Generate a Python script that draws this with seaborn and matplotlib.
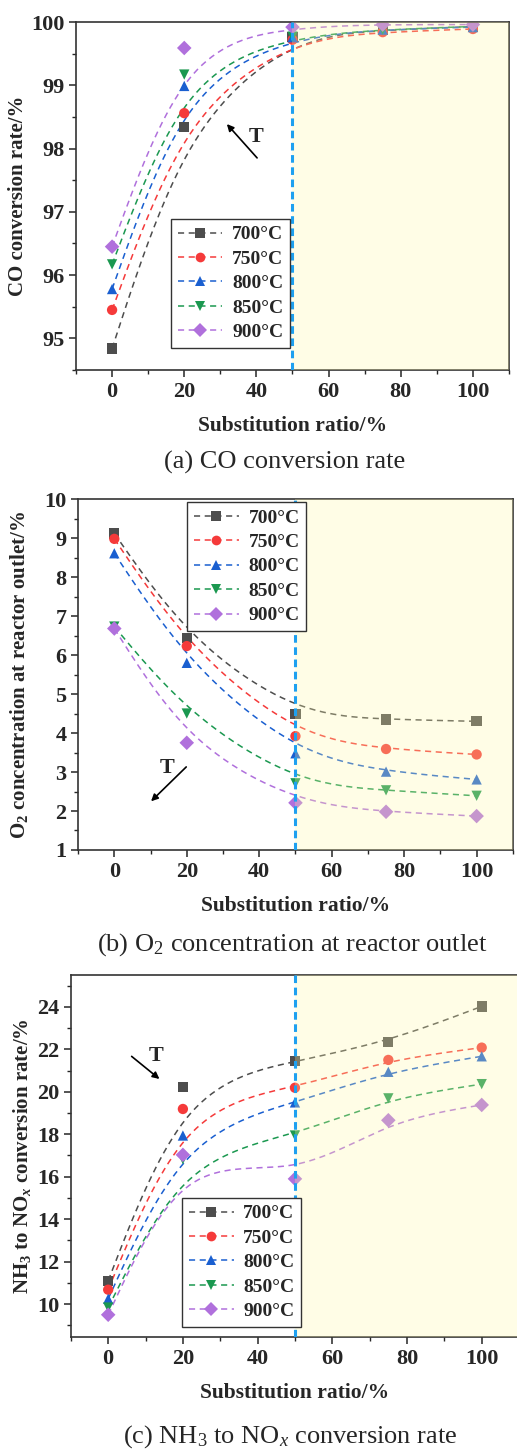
import numpy as np
import pandas as pd
import matplotlib
matplotlib.use('Agg')
import matplotlib.pyplot as plt
from matplotlib.lines import Line2D
from matplotlib.ticker import MultipleLocator
import seaborn as sns

# substitution ratio (%) and furnace temperatures
ratio = [0, 20, 50, 75, 100]
temps = ['700°C', '750°C', '800°C', '850°C', '900°C']

# (a) CO conversion rate /%
co_700 = [94.84, 98.34, 99.76, 99.87, 99.93]
co_750 = [95.45, 98.56, 99.72, 99.84, 99.89]
co_800 = [95.78, 98.99, 99.76, 99.88, 99.92]
co_850 = [96.17, 99.17, 99.77, 99.88, 99.93]
co_900 = [96.45, 99.59, 99.92, 99.96, 99.96]

# (b) O2 concentration at reactor outlet /%
o2_700 = [9.12, 6.44, 4.48, 4.35, 4.30]
o2_750 = [8.98, 6.23, 3.92, 3.59, 3.45]
o2_800 = [8.61, 5.80, 3.48, 3.01, 2.81]
o2_850 = [6.73, 4.50, 2.71, 2.53, 2.39]
o2_900 = [6.68, 3.75, 2.21, 1.98, 1.87]

# (c) NH3 to NOx conversion rate /%
nh_700 = [11.10, 20.22, 21.44, 22.36, 24.02]
nh_750 = [10.68, 19.19, 20.19, 21.50, 22.08]
nh_800 = [10.25, 17.94, 19.50, 20.94, 21.67]
nh_850 = [9.84, 16.83, 17.94, 19.69, 20.36]
nh_900 = [9.50, 17.03, 15.90, 18.66, 19.38]

colors = ['#4d4d4d', '#f53a3a', '#1a5fd0', '#1b9850', '#b070dc']
markers = ['s', 'o', '^', 'v', 'D']


def long_table(series):
    rows = []
    for t, vals in zip(temps, series):
        for r, v in zip(ratio, vals):
            rows.append({'ratio': r, 'value': v, 'temp': t})
    return pd.DataFrame(rows)


def bspline_curve(xs, ys, n=40):
    # uniform cubic B-spline with the data points as control points,
    # end points reflected so the curve starts and ends on the data (Origin style)
    P = np.column_stack([xs, ys]).astype(float)
    Q = np.vstack([2 * P[0] - P[1], P, 2 * P[-1] - P[-2]])
    s = np.linspace(0, 1, n)[:, None]
    b0 = (1 - s) ** 3 / 6
    b1 = (3 * s ** 3 - 6 * s ** 2 + 4) / 6
    b2 = (-3 * s ** 3 + 3 * s ** 2 + 3 * s + 1) / 6
    b3 = s ** 3 / 6
    segs = [b0 * Q[j] + b1 * Q[j + 1] + b2 * Q[j + 2] + b3 * Q[j + 3] for j in range(len(Q) - 3)]
    C = np.vstack(segs)
    return pd.DataFrame({'ratio': C[:, 0], 'value': C[:, 1]})


sns.set_style('ticks')
plt.rcParams['font.family'] = ['Liberation Serif', 'DejaVu Serif']
plt.rcParams['mathtext.fontset'] = 'custom'
plt.rcParams['mathtext.rm'] = 'Liberation Serif'
plt.rcParams['mathtext.it'] = 'Liberation Serif:italic'
plt.rcParams['mathtext.bf'] = 'Liberation Serif:bold'
plt.rcParams['mathtext.bfit'] = 'Liberation Serif:italic:bold'

fig = plt.figure(figsize=(5.17, 14.5), dpi=100)

panels = [
    dict(df=long_table([co_700, co_750, co_800, co_850, co_900]),
         rect=[0.147, 0.7448, 0.8375, 0.240], ylim=(94.5, 100), major=1, minor=0.5,
         ylabel='CO conversion rate/%', lab_x=-0.111,
         caption='(a) CO conversion rate', cap_x=285 / 517, cap_y=1 - 462 / 1450,
         leg=(0.219, 0.434), head=(31.3, 98.42), tail=(40.7, 97.82), t_pos=(39.9, 98.18)),
    dict(df=long_table([o2_700, o2_750, o2_800, o2_850, o2_900]),
         rect=[0.151, 0.4138, 0.841, 0.242], ylim=(1, 10), major=1, minor=0.5,
         ylabel=r'O$_\mathbf{2}$ concentration at reactor outlet/%', lab_x=-0.110,
         caption=r'(b) O$_2$ concentration at reactor outlet', cap_x=292 / 517, cap_y=1 - 945 / 1450,
         leg=(0.251, 0.991), head=(9.6, 2.2), tail=(20.4, 3.18), t_pos=(14.6, 3.1)),
    dict(df=long_table([nh_700, nh_750, nh_800, nh_850, nh_900]),
         rect=[0.137, 0.0779, 0.867, 0.2497], ylim=(8.45, 25.5), major=2, minor=1,
         ylabel=r'NH$_\mathbf{3}$ to NO$_{\mathbfit{x}}$ conversion rate/%', lab_x=-0.085,
         caption=r'(c) NH$_3$ to NO$_x$ conversion rate', cap_x=290 / 517, cap_y=1 - 1437 / 1450,
         leg=(0.248, 0.384), head=(14.3, 20.52), tail=(5.7, 21.75), t_pos=(12.9, 21.7)),
]

for p in panels:
    ax = fig.add_axes(p['rect'])
    df = p['df']
    for t, c in zip(temps, colors):
        sub = df[df['temp'] == t]
        curve = bspline_curve(sub['ratio'], sub['value'])
        sns.lineplot(data=curve, x='ratio', y='value', sort=False, estimator=None, ax=ax,
                     color=c, lw=1.1, ls=(0, (4, 3)), zorder=2)
    sns.scatterplot(data=df, x='ratio', y='value', hue='temp', style='temp',
                    palette=colors, markers=markers, s=55, linewidth=0, legend=False,
                    ax=ax, zorder=2.5)

    # shaded region for substitution ratio above 50%
    ax.axvspan(50, 110, color='#fff8a8', alpha=0.28, lw=0, zorder=3)
    ax.axvline(50, color='#1ea0f0', lw=2.2, ls=(0, (2.5, 1.5)), zorder=4)

    ax.set_xlim(-10, 110)
    ax.set_ylim(*p['ylim'])
    ax.xaxis.set_major_locator(MultipleLocator(20))
    ax.xaxis.set_minor_locator(MultipleLocator(10))
    ax.yaxis.set_major_locator(MultipleLocator(p['major']))
    ax.yaxis.set_minor_locator(MultipleLocator(p['minor']))
    ax.tick_params(which='major', direction='out', length=5, width=1.1, labelsize=16)
    ax.tick_params(which='minor', direction='out', length=3, width=1.0)
    for lab in ax.get_xticklabels() + ax.get_yticklabels():
        lab.set_fontweight('bold')
    for s in ax.spines.values():
        s.set_linewidth(1.2)
        s.set_color('#333333')
        s.set_visible(True)

    ax.set_xlabel('Substitution ratio/%', fontsize=15.5, fontweight='bold', labelpad=10)
    ax.set_ylabel(p['ylabel'], fontsize=15, fontweight='bold')
    ax.yaxis.set_label_coords(p['lab_x'], 0.5)

    ax.annotate('', xy=p['head'], xytext=p['tail'],
                arrowprops=dict(arrowstyle='-|>', color='black', lw=1.2, mutation_scale=10),
                zorder=5)
    ax.text(*p['t_pos'], 'T', fontsize=16, fontweight='bold', ha='center', va='center', zorder=5)

    handles = [Line2D([], [], color=c, marker=m, ls=(0, (4, 3)), lw=1.1, markersize=7,
                      markeredgewidth=0) for c, m in zip(colors, markers)]
    leg = ax.legend(handles, temps, loc='upper left', bbox_to_anchor=p['leg'],
                    borderaxespad=0, frameon=True, fancybox=False, framealpha=1,
                    edgecolor='#333333', prop=dict(family='Liberation Serif', weight='bold', size=14),
                    handlelength=2.3, handletextpad=0.5, labelspacing=0.35, borderpad=0.35)
    leg.get_frame().set_linewidth(1.0)
    leg.set_zorder(6)

    fig.text(p['cap_x'], p['cap_y'], p['caption'], fontsize=19, ha='center', va='center')

fig.savefig('out.png', dpi=100)
